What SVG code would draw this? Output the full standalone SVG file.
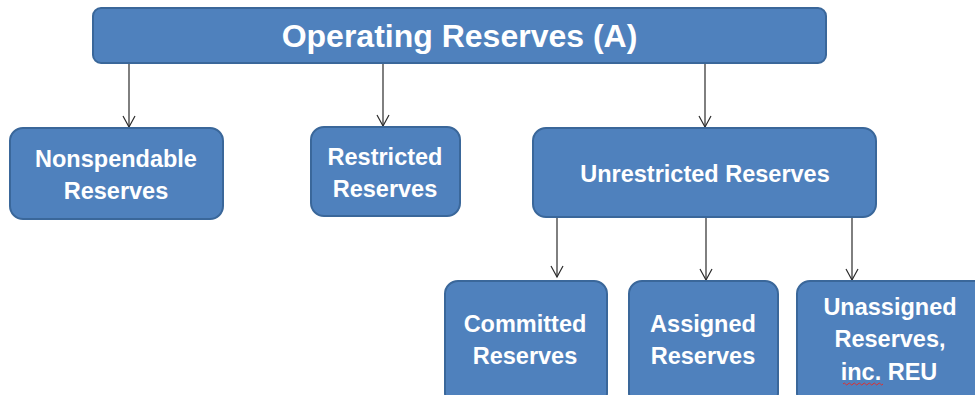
<svg xmlns="http://www.w3.org/2000/svg" width="975" height="395" viewBox="0 0 975 395">
<defs>
<style>
.box{fill:#4f81bd;stroke:#3a679a;stroke-width:2}
.t{fill:#ffffff;font-family:"Liberation Sans",Arial,sans-serif;font-weight:bold;font-size:23.5px;text-anchor:middle}
.big{font-size:32px}
.c{stroke:#2b2b2b;stroke-width:1.2;fill:none}
.h{stroke:#2b2b2b;stroke-width:1.2;fill:none}
</style>
</defs>
<rect width="975" height="395" fill="#ffffff"/>
<g id="connectors">
<line class="c" x1="129" y1="63" x2="129" y2="127"/>
<polyline class="h" points="123,116 129,127 135,116"/>
<line class="c" x1="383" y1="63" x2="383" y2="126"/>
<polyline class="h" points="377,115 383,126 389,115"/>
<line class="c" x1="705" y1="63" x2="705" y2="127"/>
<polyline class="h" points="699,116 705,127 711,116"/>
<line class="c" x1="557" y1="212" x2="557" y2="277"/>
<polyline class="h" points="551,266 557,277 563,266"/>
<line class="c" x1="706" y1="217" x2="706" y2="280"/>
<polyline class="h" points="700,269 706,280 712,269"/>
<line class="c" x1="852" y1="217" x2="852" y2="280"/>
<polyline class="h" points="846,269 852,280 858,269"/>
</g>
<g id="operating">
<rect class="box" x="93" y="8" width="733" height="55" rx="8"/>
<text class="t big" x="459.5" y="47">Operating Reserves (A)</text>
</g>
<g id="nonspendable">
<rect class="box" x="10" y="128" width="213" height="91" rx="13"/>
<text class="t" x="116" y="167">Nonspendable</text>
<text class="t" x="116" y="199">Reserves</text>
</g>
<g id="restricted">
<rect class="box" x="311" y="127" width="149" height="89" rx="13"/>
<text class="t" x="385" y="165">Restricted</text>
<text class="t" x="385" y="197">Reserves</text>
</g>
<g id="unrestricted">
<rect class="box" x="533" y="128" width="343" height="89" rx="13"/>
<text class="t" x="705" y="182">Unrestricted Reserves</text>
</g>
<g id="committed">
<rect class="box" x="445" y="281" width="162" height="125" rx="13"/>
<text class="t" x="525" y="332">Committed</text>
<text class="t" x="525" y="364">Reserves</text>
</g>
<g id="assigned">
<rect class="box" x="629" y="281" width="149" height="125" rx="13"/>
<text class="t" x="703" y="332">Assigned</text>
<text class="t" x="703" y="364">Reserves</text>
</g>
<g id="unassigned">
<rect class="box" x="797" y="281" width="190" height="125" rx="13"/>
<text class="t" x="890" y="315">Unassigned</text>
<text class="t" x="890" y="347">Reserves,</text>
<text class="t" x="889" y="380">inc. REU</text>
<path d="M843,384 q1.25,-2 2.5,0 t2.5,0 t2.5,0 t2.5,0 t2.5,0 t2.5,0 t2.5,0 t2.5,0 t2.5,0 t2.5,0 t2.5,0 t2.5,0 t2.5,0 t2.5,0 t2.5,0 t2.5,0" fill="none" stroke="#e03030" stroke-width="1"/>
</g>
</svg>
